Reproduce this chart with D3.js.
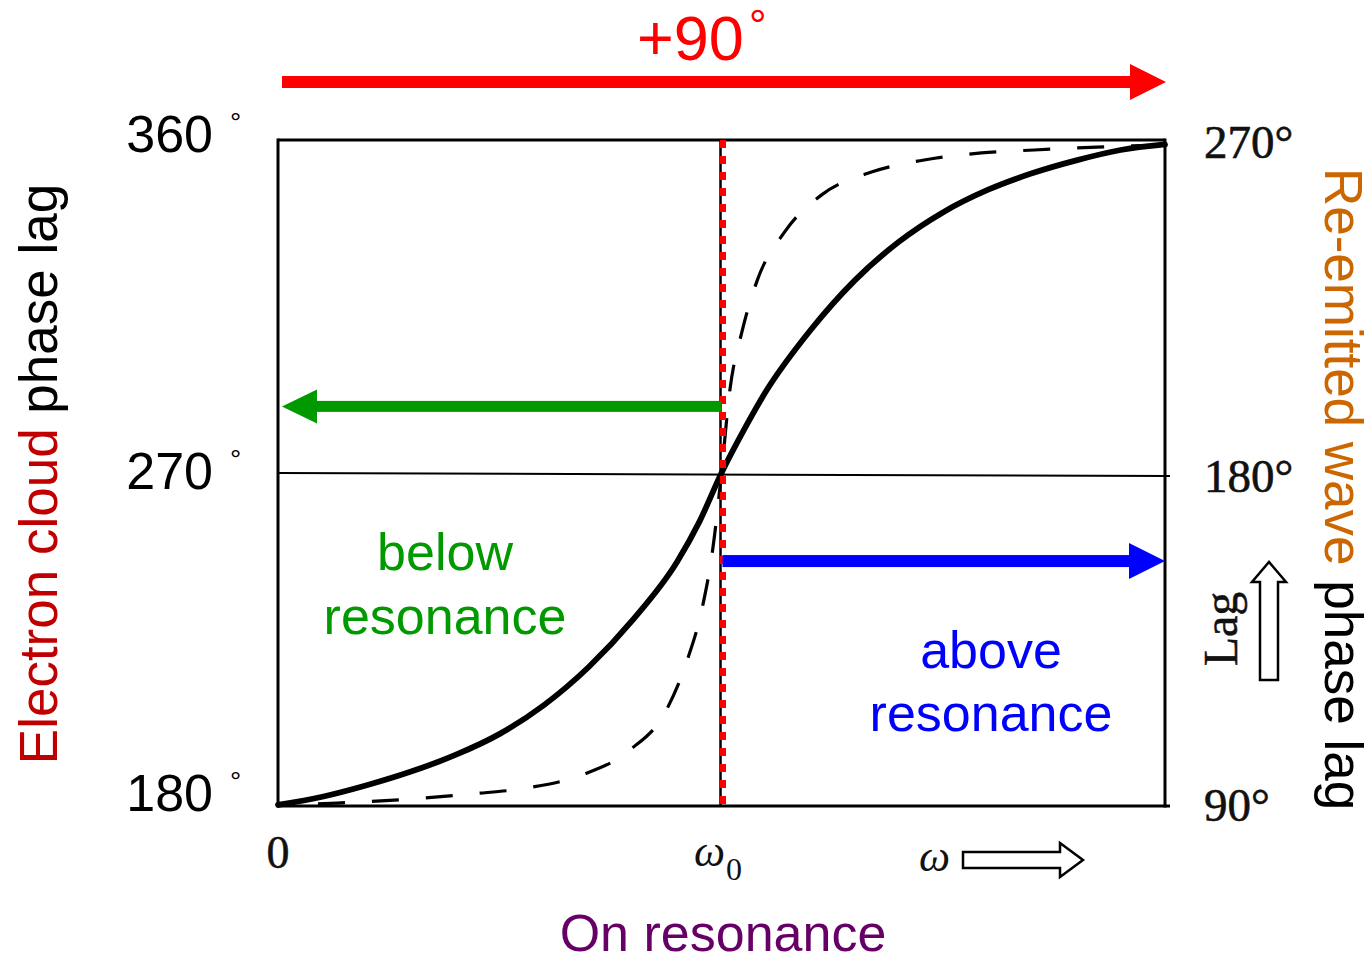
<!DOCTYPE html>
<html>
<head>
<meta charset="utf-8">
<script src="https://cdn.jsdelivr.net/npm/d3@7/dist/d3.min.js"></script>
<style>
  html, body { margin: 0; padding: 0; background: #fff; }
  svg { display: block; }
</style>
</head>
<body>
<svg id="chart" width="1371" height="957"></svg>
<script>
// Driving frequency as a fraction of the resonance frequency ω0
const solidOmega = [0, 0.1, 0.2, 0.3, 0.4, 0.5, 0.6, 0.7, 0.8, 0.9, 0.95, 1.0, 1.05, 1.1, 1.2, 1.3, 1.4, 1.5, 1.6, 1.7, 1.8, 1.9, 2.0];
// Phase lag (degrees, left scale) for the broad resonance
const solidPhase = [180.3, 182.5, 185.6, 189.3, 193.8, 199.5, 207.3, 217.5, 230.3, 246.0, 256.8, 270.0, 281.5, 292.0, 308.5, 322.0, 332.5, 340.5, 346.5, 351.0, 354.5, 357.3, 358.8];

// Phase lag for the narrow (low damping) resonance
const dashedOmega = [0, 0.133, 0.313, 0.439, 0.563, 0.685, 0.793, 0.876, 0.923, 0.957, 0.980, 1.0, 1.018, 1.047, 1.081, 1.142, 1.225, 1.340, 1.457, 1.586, 1.705, 1.847, 2.0];
const dashedPhase = [180.3, 180.8, 182.0, 183.3, 184.9, 188.4, 195.1, 206.0, 219.5, 233.8, 249.2, 270.0, 291.6, 308.6, 322.2, 335.1, 345.1, 351.4, 354.6, 356.5, 357.3, 358.1, 358.6];

// Tick labels
const leftTicks = [360, 270, 180];
const rightTicks = [270, 180, 90];
const xTickLabels = ["0"];

const svg = d3.select("#chart");
const SANS = "'Liberation Sans', Arial, sans-serif";
const SERIF = "'Liberation Serif', 'Times New Roman', serif";

const x = d3.scaleLinear().domain([0, 2]).range([278, 1165]);
const yL = d3.scaleLinear().domain([180, 360]).range([806, 140]);
const yR = d3.scaleLinear().domain([90, 270]).range([806, 140]);

const xs = solidOmega.map((w, i) => [w, solidPhase[i]]);
const xd = dashedOmega.map((w, i) => [w, dashedPhase[i]]);

// Frame
const g = svg.append("g");
g.append("line").attr("x1", x(0)).attr("x2", x(0)).attr("y1", yL(360) - 1.5).attr("y2", yL(180) + 1.5)
  .attr("stroke", "#000").attr("stroke-width", 3);
g.append("line").attr("x1", x(0)).attr("x2", x(2)).attr("y1", yL(360)).attr("y2", yL(360))
  .attr("stroke", "#000").attr("stroke-width", 3);
g.append("line").attr("x1", x(2)).attr("x2", x(2)).attr("y1", yL(360) - 1.5).attr("y2", yL(180) + 1.5)
  .attr("stroke", "#000").attr("stroke-width", 3);
g.append("line").attr("x1", x(0)).attr("x2", x(2) + 5).attr("y1", yL(180)).attr("y2", yL(180))
  .attr("stroke", "#000").attr("stroke-width", 3);
// Mid-line at 270°
g.append("line").attr("x1", x(0)).attr("x2", x(2) + 5).attr("y1", yL(270)).attr("y2", yL(270) + 3)
  .attr("stroke", "#000").attr("stroke-width", 2);

// Resonance curves
const line = d3.line().x(d => x(d[0])).y(d => yL(d[1])).curve(d3.curveMonotoneX);
g.append("path").attr("d", line(xd)).attr("fill", "none").attr("stroke", "#000")
  .attr("stroke-width", 3.2).attr("stroke-dasharray", "27,27").attr("stroke-dashoffset", -40);
g.append("path").attr("d", line(xs)).attr("fill", "none").attr("stroke", "#000")
  .attr("stroke-width", 5.8).attr("stroke-linecap", "round");

// Resonance marker at ω0
g.append("line").attr("x1", x(1) - 1).attr("x2", x(1) - 1).attr("y1", yL(360)).attr("y2", yL(180))
  .attr("stroke", "#000").attr("stroke-width", 2.5);
g.append("line").attr("x1", x(1) + 1.5).attr("x2", x(1) + 1.5).attr("y1", yL(360)).attr("y2", yL(180))
  .attr("stroke", "#ff0000").attr("stroke-width", 6).attr("stroke-dasharray", "8,8");

// Solid arrows
function solidArrow(x1, x2, y, color, thick, headLen, headHalf) {
  const dir = Math.sign(x2 - x1);
  const base = x2 - dir * headLen;
  svg.append("rect")
    .attr("x", Math.min(x1, base)).attr("y", y - thick / 2)
    .attr("width", Math.abs(base - x1)).attr("height", thick)
    .attr("fill", color);
  svg.append("path")
    .attr("d", `M${x2},${y} L${base},${y - headHalf} L${base},${y + headHalf} Z`)
    .attr("fill", color);
}
solidArrow(x(0) + 4, x(2) + 1, 82, "#ff0000", 12, 36, 18);
solidArrow(x(1), x(0) + 4, yL(288), "#009900", 11, 35, 17);
solidArrow(x(1) + 1, x(2), yL(246.2), "#0000ff", 12, 36, 18);

// Left tick labels (electron cloud)
const leftNudge = { 360: 12, 270: 16, 180: 5 };
const lt = svg.append("g").selectAll("g").data(leftTicks).join("g");
lt.append("text").attr("x", 213).attr("y", d => yL(d) + leftNudge[d])
  .attr("text-anchor", "end").attr("font-family", SANS).attr("font-size", 52).text(d => d);
lt.append("text").attr("x", 230).attr("y", d => yL(d) + leftNudge[d] - 20)
  .attr("font-family", SANS).attr("font-size", 28).text("°");

// Right tick labels (re-emitted wave)
const rightNudge = { 270: 18, 180: 19, 90: 15 };
svg.append("g").selectAll("text").data(rightTicks).join("text")
  .attr("x", 1204).attr("y", d => yR(d) + rightNudge[d])
  .attr("font-family", SERIF).attr("font-size", 47).attr("fill", "#111")
  .attr("stroke", "#111").attr("stroke-width", 0.6)
  .text(d => d + "°");

// x axis labels
svg.append("text").attr("x", x(0)).attr("y", 868).attr("text-anchor", "middle")
  .attr("font-family", SERIF).attr("font-size", 46).attr("fill", "#111")
  .attr("stroke", "#111").attr("stroke-width", 0.5).text(xTickLabels[0]);
const w0 = svg.append("text").attr("x", 694).attr("y", 866)
  .attr("font-family", SERIF).attr("font-size", 44).attr("font-style", "italic").attr("fill", "#111");
w0.append("tspan").text("ω");
w0.append("tspan").attr("font-size", 32).attr("font-style", "normal").attr("dy", 14).attr("dx", 1).text("0");
svg.append("text").attr("x", 919).attr("y", 871)
  .attr("font-family", SERIF).attr("font-size", 44).attr("font-style", "italic").attr("fill", "#111").text("ω");

// Hollow ω arrow
svg.append("path")
  .attr("d", "M963,852 L1060,852 L1060,843 L1083,860 L1060,877 L1060,868 L963,868 Z")
  .attr("fill", "#fff").attr("stroke", "#000").attr("stroke-width", 2.5).attr("stroke-linejoin", "miter");

// Hollow Lag arrow
svg.append("path")
  .attr("d", "M1260,680 L1260,582 L1252,582 L1269,562 L1286,582 L1278,582 L1278,680 Z")
  .attr("fill", "#fff").attr("stroke", "#000").attr("stroke-width", 2.5);
svg.append("text").attr("transform", "translate(1237,629) rotate(-90)")
  .attr("text-anchor", "middle").attr("font-family", SERIF).attr("font-size", 48)
  .attr("fill", "#111").attr("stroke", "#111").attr("stroke-width", 0.5).text("Lag");

// +90° heading
const h = svg.append("text").attr("x", 637).attr("y", 60)
  .attr("font-family", SANS).attr("font-size", 63).attr("fill", "#ff0000");
h.append("tspan").text("+90");
svg.append("text").attr("x", 749).attr("y", 41)
  .attr("font-family", SANS).attr("font-size", 44).attr("fill", "#ff0000").text("°");

// Region labels
const below = svg.append("text").attr("text-anchor", "middle").attr("font-family", SANS)
  .attr("font-size", 52).attr("fill", "#009900");
below.append("tspan").attr("x", 445).attr("y", 570).text("below");
below.append("tspan").attr("x", 445).attr("y", 634).text("resonance");

const above = svg.append("text").attr("text-anchor", "middle").attr("font-family", SANS)
  .attr("font-size", 52).attr("fill", "#0000ff");
above.append("tspan").attr("x", 991).attr("y", 668).text("above");
above.append("tspan").attr("x", 991).attr("y", 731).text("resonance");

svg.append("text").attr("x", 723).attr("y", 951).attr("text-anchor", "middle")
  .attr("font-family", SANS).attr("font-size", 52).attr("fill", "#660066").text("On resonance");

// Axis titles
const lTitle = svg.append("text").attr("transform", "translate(57,474) rotate(-90)")
  .attr("text-anchor", "middle").attr("font-family", SANS).attr("font-size", 53);
lTitle.append("tspan").attr("fill", "#c00000").text("Electron cloud");
lTitle.append("tspan").attr("fill", "#000").text(" phase lag");

const rTitle = svg.append("text").attr("transform", "translate(1325,489) rotate(90)")
  .attr("text-anchor", "middle").attr("font-family", SANS).attr("font-size", 53);
rTitle.append("tspan").attr("fill", "#cc6600").text("Re-emitted wave");
rTitle.append("tspan").attr("fill", "#000").text(" phase lag");
</script>
</body>
</html>
